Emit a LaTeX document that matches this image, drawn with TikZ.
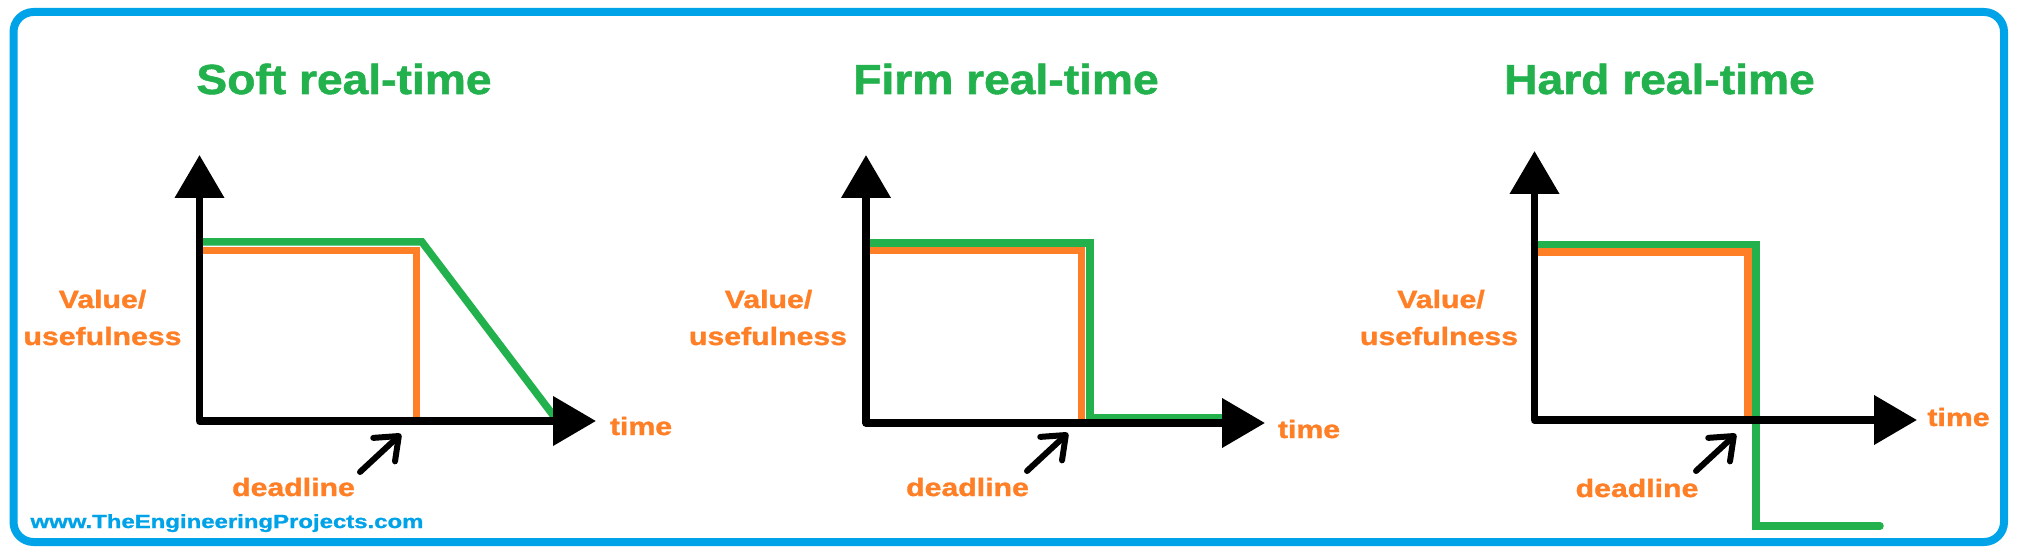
\documentclass[tikz,border=0pt]{standalone}
\usepackage{fontspec}
\setmainfont{Liberation Sans}
\newfontfamily\heavyfont{Liberation Sans Bold}[FakeBold=1.2]
\usepackage{graphicx}
\usetikzlibrary{arrows.meta}
\definecolor{pgreen}{HTML}{22B14C}
\definecolor{porange}{HTML}{FF7F27}
\definecolor{pblue}{HTML}{00A2E8}
\newcommand{\widetext}[2]{\scalebox{#1}[1]{#2}}
\begin{document}
\begin{tikzpicture}[x=1pt,y=-1pt,
  axis/.style={line width=7.5pt, line join=round, {Triangle[length=43pt,width=48pt]}-{Triangle[length=43pt,width=48pt]}},
  greenline/.style={draw=pgreen, line width=7.5pt, line cap=round},
  orangeline/.style={draw=porange, line width=7.5pt},
  title/.style={text=pgreen, font=\fontsize{42}{50}\selectfont\heavyfont, anchor=base, inner sep=0pt},
  lbl/.style={text=porange, font=\fontsize{25}{30}\selectfont\heavyfont, anchor=base, inner sep=0pt},
  url/.style={text=pblue, font=\fontsize{19}{23}\selectfont\heavyfont, anchor=base, inner sep=0pt},
  pointer/.style={line width=6pt, line cap=round, line join=round, -{Straight Barb[length=20pt,width=32pt,round]}},
  frame/.style={draw=pblue, line width=8pt, rounded corners=20pt}
]
\useasboundingbox (0,0) rectangle (2017,553);
\draw[frame] (13.5,12) rectangle (2004,542);

% ---------- titles ----------
\node[title] (t1) at (344,94) {\widetext{1.1}{Soft real-time}};
\node[title] (t2) at (1006,94) {\widetext{1.1}{Firm real-time}};
\node[title] (t3) at (1659.5,94) {\widetext{1.1}{Hard real-time}};

% ---------- panel 1: soft ----------
\coordinate (o1) at (199.5,421);
\coordinate (y1) at (199.5,155);
\coordinate (x1) at (596,421);
\coordinate (g1a) at (199.5,242);
\coordinate (g1b) at (422,242);
\coordinate (g1c) at (553,415);
\coordinate (r1a) at (199.5,250.5);
\coordinate (r1b) at (416.5,250.5);
\coordinate (r1c) at (416.5,421);
\draw[greenline] (g1a) -- (g1b) -- (g1c);
\draw[orangeline] (r1a) -- (r1b) -- (r1c);
\draw[axis] (y1) -- (o1) -- (x1);
\node[lbl] (v1) at (102.5,308) {\widetext{1.21}{Value/}};
\node[lbl] (u1) at (102.5,345) {\widetext{1.21}{usefulness}};
\node[lbl] (tm1) at (641,435) {\widetext{1.21}{time}};
\node[lbl] (d1) at (293.5,496) {\widetext{1.21}{deadline}};
\coordinate (p1a) at (360,472);
\coordinate (p1b) at (401,434);
\draw[pointer] (p1a) -- (p1b);

% ---------- panel 2: firm ----------
\coordinate (o2) at (866,423);
\coordinate (y2) at (866,155);
\coordinate (x2) at (1265,423);
\coordinate (g2a) at (866,243);
\coordinate (g2b) at (1090,243);
\coordinate (g2c) at (1090,418);
\coordinate (g2d) at (1222,418);
\coordinate (r2a) at (866,250.7);
\coordinate (r2b) at (1081.5,250.7);
\coordinate (r2c) at (1081.5,423);
\draw[greenline] (g2a) -- (g2b) -- (g2c) -- (g2d);
\draw[orangeline] (r2a) -- (r2b) -- (r2c);
\draw[axis] (y2) -- (o2) -- (x2);
\node[lbl] (v2) at (768.5,308) {\widetext{1.21}{Value/}};
\node[lbl] (u2) at (768,345) {\widetext{1.21}{usefulness}};
\node[lbl] (tm2) at (1309,438) {\widetext{1.21}{time}};
\node[lbl] (d2) at (967.5,496) {\widetext{1.21}{deadline}};
\coordinate (p2a) at (1027,471);
\coordinate (p2b) at (1068,433);
\draw[pointer] (p2a) -- (p2b);

% ---------- panel 3: hard ----------
\coordinate (o3) at (1534.5,420);
\coordinate (y3) at (1534.5,151);
\coordinate (x3) at (1917,420);
\coordinate (g3a) at (1534.5,244.5);
\coordinate (g3b) at (1756,244.5);
\coordinate (g3c) at (1756,526);
\coordinate (g3d) at (1880,526);
\coordinate (r3a) at (1534.5,252);
\coordinate (r3b) at (1748,252);
\coordinate (r3c) at (1748,420);
\draw[greenline] (g3a) -- (g3b) -- (g3c) -- (g3d);
\draw[orangeline] (r3a) -- (r3b) -- (r3c);
\draw[axis] (y3) -- (o3) -- (x3);
\node[lbl] (v3) at (1441,308) {\widetext{1.21}{Value/}};
\node[lbl] (u3) at (1439,345) {\widetext{1.21}{usefulness}};
\node[lbl] (tm3) at (1958.5,426) {\widetext{1.21}{time}};
\node[lbl] (d3) at (1637,497) {\widetext{1.21}{deadline}};
\coordinate (p3a) at (1696,471);
\coordinate (p3b) at (1736,434);
\draw[pointer] (p3a) -- (p3b);

% ---------- footer ----------
\node[url] (www) at (227,528) {\widetext{1.26}{www.TheEngineeringProjects.com}};
\end{tikzpicture}
\end{document}
